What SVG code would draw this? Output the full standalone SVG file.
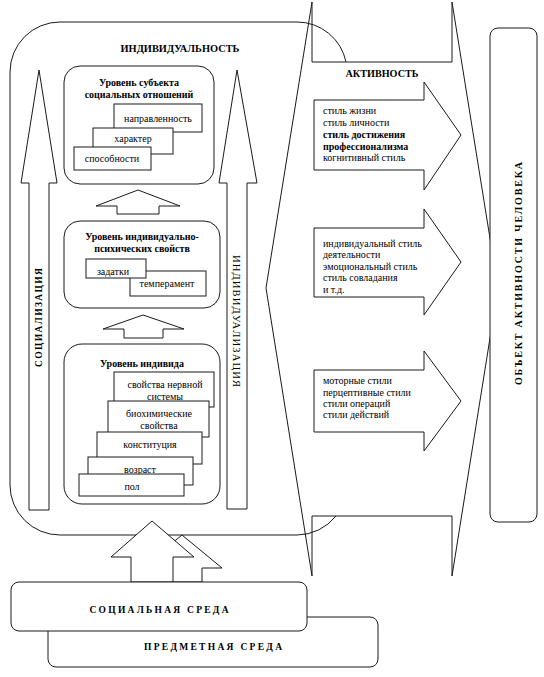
<svg xmlns="http://www.w3.org/2000/svg" width="544" height="677" viewBox="0 0 544 677" font-family="'Liberation Serif', 'Times New Roman', serif">
<style>
.s{fill:none;stroke:#1a1a1a;stroke-width:1}
.w{fill:#fff;stroke:#1a1a1a;stroke-width:1}
text{font-family:'Liberation Serif','Times New Roman',serif;fill:#000}
.t{font-size:10px}
.c{text-anchor:middle}
.b{font-weight:bold}
</style>
<rect width="544" height="677" fill="#fff"/>
<g id="individuality">
<path class="s" d="M346,62 A50,50 0 0 0 297,22 L60,22 A50,50 0 0 0 10,72 L10,485 A50,50 0 0 0 60,535 L297,535 A50,50 0 0 0 336,516"/>
<text class="b c" x="180" y="52" font-size="11" textLength="119" lengthAdjust="spacingAndGlyphs">ИНДИВИДУАЛЬНОСТЬ</text>
</g>
<g id="activity">
<polyline class="s" points="312,2 266,288 312,576"/>
<polyline class="s" points="452,2 498,288 452,576"/>
<polyline class="s" points="312,2 312,62 452,62 452,2"/>
<polyline class="s" points="312,576 312,516 452,516 452,576"/>
<text class="b c" x="382" y="77" font-size="11" textLength="73" lengthAdjust="spacingAndGlyphs">АКТИВНОСТЬ</text>
</g>
<g id="styles1">
<path class="w" d="M314,100 L424,100 L424,82 L461,135 L424,190 L424,170 L314,170 Z"/>
<text class="t" x="323" y="113.5">стиль жизни</text>
<text class="t" x="323" y="125.5">стиль личности</text>
<text class="t b" x="323" y="137.5">стиль достижения</text>
<text class="t b" x="323" y="149.5">профессионализма</text>
<text class="t" x="323" y="160.5">когнитивный стиль</text>
</g>
<g id="styles2">
<path class="w" d="M314,228 L424,228 L424,209 L461,262 L424,315 L424,297 L314,297 Z"/>
<text class="t" x="323" y="246.5">индивидуальный стиль</text>
<text class="t" x="323" y="257.5">деятельности</text>
<text class="t" x="323" y="269.5">эмоциональный стиль</text>
<text class="t" x="323" y="280.5">стиль совладания</text>
<text class="t" x="323" y="292.5">и т.д.</text>
</g>
<g id="styles3">
<path class="w" d="M314,370 L424,370 L424,351 L461,401 L424,451 L424,432 L314,432 Z"/>
<text class="t" x="323" y="383.5">моторные стили</text>
<text class="t" x="323" y="395.5">перцептивные стили</text>
<text class="t" x="323" y="406.5">стили операций</text>
<text class="t" x="323" y="417.5">стили действий</text>
</g>
<g id="object">
<rect class="w" x="490" y="28" width="47" height="494" rx="8"/>
<text class="b c" transform="translate(521.5,273.5) rotate(-90)" font-size="10" textLength="223" lengthAdjust="spacing">ОБЪЕКТ АКТИВНОСТИ ЧЕЛОВЕКА</text>
</g>
<g id="socialization">
<path class="w" d="M39,70 L57,183 L49,183 L49,510 L29,510 L29,183 L21,183 Z"/>
<text class="b c" transform="translate(41.5,317.5) rotate(-90)" font-size="9.5" textLength="99" lengthAdjust="spacing">СОЦИАЛИЗАЦИЯ</text>
</g>
<g id="individualization">
<path class="w" d="M237,70 L257,183 L247,183 L247,509 L227,509 L227,183 L219,183 Z"/>
<text class="c" transform="translate(233,321) rotate(90)" font-size="10.5" textLength="132" lengthAdjust="spacing">ИНДИВИДУАЛИЗАЦИЯ</text>
</g>
<g id="level-subject">
<rect class="w" x="64" y="66" width="150" height="118" rx="16"/>
<text class="t b c" x="139" y="85.5">Уровень субъекта</text>
<text class="t b c" x="139" y="97.5">социальных отношений</text>
<rect class="w" x="114" y="104" width="88" height="28"/>
<text class="t c" x="158" y="121.5">направленность</text>
<rect class="w" x="93" y="128" width="80" height="26"/>
<text class="t c" x="133" y="141.5">характер</text>
<rect class="w" x="74" y="147" width="77" height="23"/>
<text class="t c" x="112" y="161.5">способности</text>
</g>
<g id="level-psych">
<rect class="w" x="64" y="221" width="156" height="87" rx="16"/>
<text class="t b c" x="142" y="239.5">Уровень индивидуально-</text>
<text class="t b c" x="142" y="251.5">психических свойств</text>
<rect class="w" x="130" y="271" width="76" height="25"/>
<text class="t c" x="167" y="286.5">темперамент</text>
<rect class="w" x="86" y="259" width="60" height="19"/>
<text class="t c" x="113" y="275">задатки</text>
</g>
<g id="level-individual">
<rect class="w" x="64" y="344" width="156" height="160" rx="18"/>
<text class="t b c" x="142" y="366.5">Уровень индивида</text>
<rect class="w" x="114" y="372" width="100" height="35"/>
<text class="t c" x="165" y="387.5">свойства нервной</text>
<text class="t c" x="165" y="399.5">системы</text>
<rect class="w" x="108" y="401" width="101" height="36"/>
<text class="t c" x="159" y="416.5">биохимические</text>
<text class="t c" x="159" y="428.5">свойства</text>
<rect class="w" x="97" y="432" width="105" height="32"/>
<text class="t c" x="150" y="447.5">конституция</text>
<rect class="w" x="88" y="457" width="105" height="28"/>
<text class="t c" x="140" y="472.5">возраст</text>
<rect class="w" x="79" y="474" width="105" height="22"/>
<text class="t c" x="132" y="489.5">пол</text>
</g>
<g id="connectors">
<path class="w" d="M138,190 L180,206 L159,206 L159,214 L117,214 L117,206 L96,206 Z"/>
<path class="w" d="M143,315 L184,329 L163,329 L163,338 L124,338 L124,329 L103,329 Z"/>
<path class="w" d="M182,535 L222,568 L202,568 L202,582 L162,582 L162,568 L142,568 Z"/>
<path class="w" d="M152,521 L194,557 L173,557 L173,582 L131,582 L131,557 L111,557 Z"/>
</g>
<g id="object-env">
<rect class="w" x="48" y="617" width="330" height="50" rx="8"/>
<text class="b c" x="213" y="649.5" font-size="9.5" textLength="138" lengthAdjust="spacing">ПРЕДМЕТНАЯ СРЕДА</text>
</g>
<g id="social-env">
<rect class="w" x="11" y="582" width="296" height="49" rx="8"/>
<text class="b c" x="159" y="612.5" font-size="9.5" textLength="139" lengthAdjust="spacing">СОЦИАЛЬНАЯ СРЕДА</text>
</g>
</svg>
